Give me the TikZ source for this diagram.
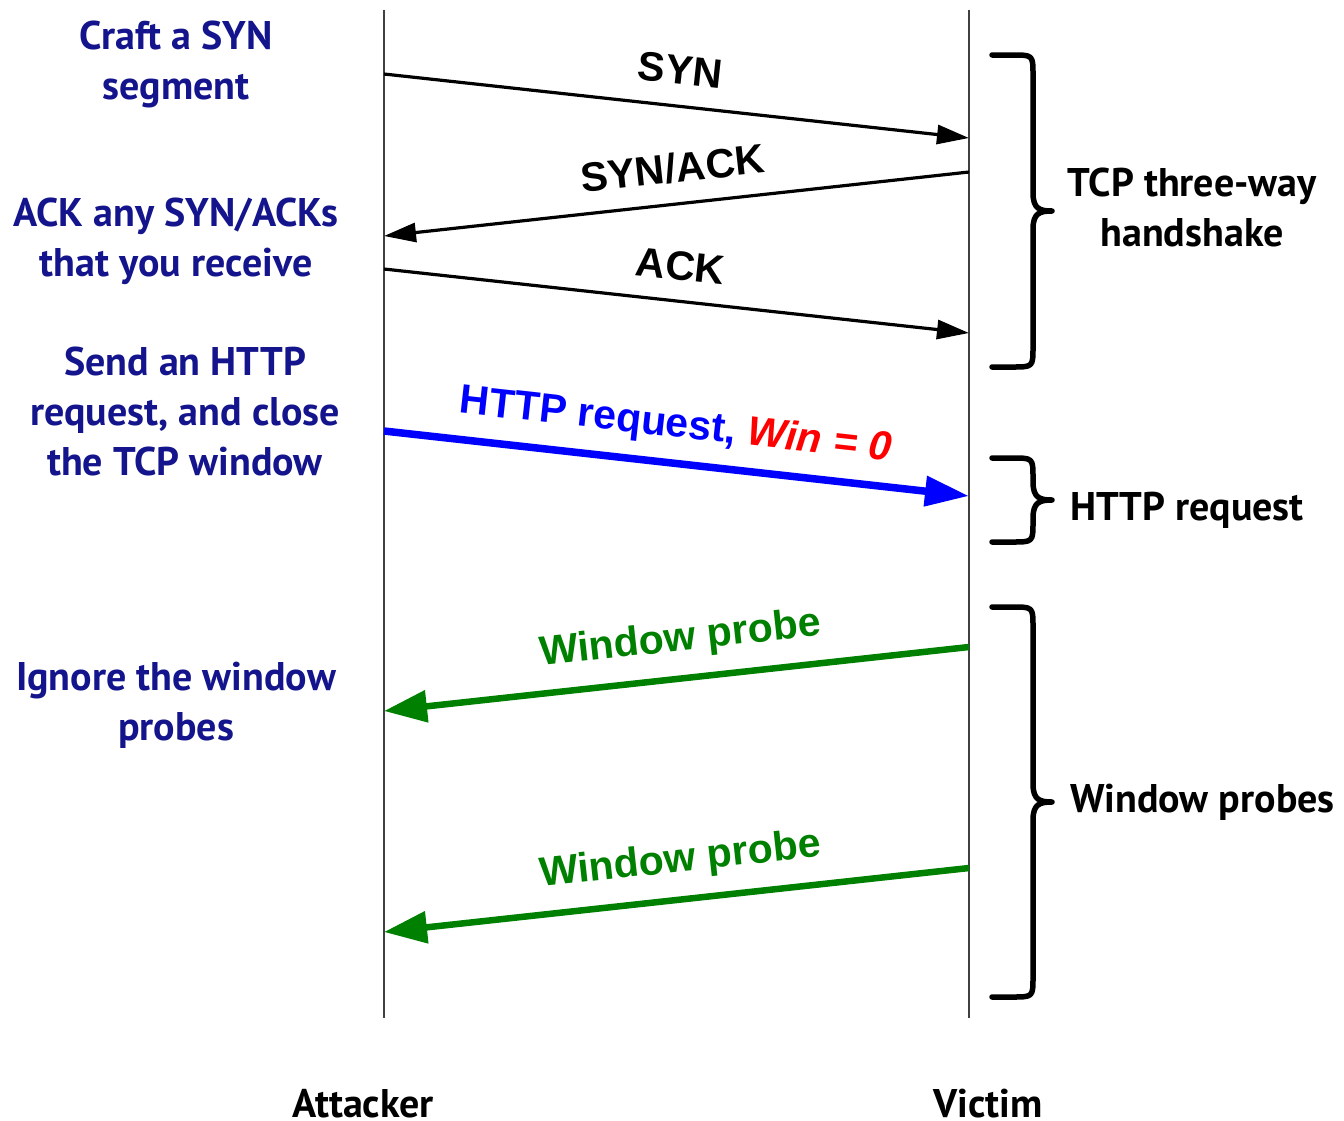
\documentclass[tikz,border=0pt]{standalone}
\usepackage{fontspec}
\setmainfont{Liberation Sans}
\newfontfamily\sidefont{PT Sans}
\usetikzlibrary{arrows.meta}

\definecolor{notenavy}{RGB}{20,20,140}
\definecolor{probegreen}{RGB}{0,128,0}

\tikzset{
  lifeline/.style={draw=black!75, line width=1.4pt},
  note/.style={font=\sidefont\bfseries\fontsize{40}{50}\selectfont, text=notenavy, align=center, inner sep=0pt},
  sidelabel/.style={font=\sidefont\bfseries\fontsize{40}{50}\selectfont, text=black, align=center, inner sep=0pt},
  msglabel/.style={font=\bfseries\fontsize{41}{44}\selectfont, inner sep=0pt, anchor=south},
  msg/.style={draw=black, line width=3.2pt, -{Triangle[length=32pt,width=19pt]}},
  msgback/.style={draw=black, line width=3.2pt, {Triangle[length=32pt,width=19pt]}-},
  httpmsg/.style={draw=blue, line width=7.5pt, -{Triangle[length=44pt,width=29pt]}},
  probemsg/.style={draw=probegreen, line width=6.5pt, {Triangle[length=43pt,width=31pt]}-},
  bracket/.style={draw=black, line width=5.5pt, line cap=round, line join=round},
}

% curly bracket on the right of the victim's line: top y, bottom y
\newcommand\phasebrace[2]{%
  \pgfmathsetmacro\bmid{(#1+#2)/2}%
  \draw[bracket] (992,#1) -- (1012,#1)
    .. controls (1033,#1) .. (1033,#1+20)
    -- (1033,\bmid-18)
    .. controls (1033,\bmid-2) and (1040,\bmid) .. (1052,\bmid)
    .. controls (1040,\bmid) and (1033,\bmid+2) .. (1033,\bmid+18)
    -- (1033,#2-20)
    .. controls (1033,#2) .. (1012,#2) -- (992,#2);}

\begin{document}
\begin{tikzpicture}[x=1pt,y=-1pt]
\useasboundingbox (0,0) rectangle (1344,1120);

% lifelines
\coordinate (atop) at (384,10);
\coordinate (abot) at (384,1018);
\coordinate (vtop) at (969,10);
\coordinate (vbot) at (969,1018);
\draw[lifeline] (atop) -- (abot);
\draw[lifeline] (vtop) -- (vbot);

% end points of the messages
\coordinate (synA) at (384,74);   \coordinate (synV) at (969,138);
\coordinate (saA)  at (384,236);  \coordinate (saV)  at (969,172);
\coordinate (ackA) at (384,269);  \coordinate (ackV) at (969,333);
\coordinate (htA)  at (384,431);  \coordinate (htV)  at (969,496);
\coordinate (wp1A) at (384,711);  \coordinate (wp1V) at (969,647);
\coordinate (wp2A) at (384,932);  \coordinate (wp2V) at (969,868);

% messages
\draw[msg] (synA) -- node[msglabel, sloped, above=20pt] (synlbl) {SYN} (synV);
\draw[msgback] (saA) -- node[msglabel, sloped, above=19pt] (salbl) {SYN/ACK} (saV);
\draw[msg] (ackA) -- node[msglabel, sloped, above=19pt] (acklbl) {ACK} (ackV);
\draw[httpmsg] (htA) -- node[msglabel, sloped, above=14pt, xshift=-5pt] (htlbl)
  {\textcolor{blue}{HTTP request,} \textcolor{red}{\itshape Win = 0}} (htV);
\draw[probemsg] (wp1A) -- node[msglabel, sloped, above=16pt, xshift=8pt, text=probegreen] (wp1lbl) {Window probe} (wp1V);
\draw[probemsg] (wp2A) -- node[msglabel, sloped, above=16pt, xshift=8pt, text=probegreen] (wp2lbl) {Window probe} (wp2V);

% attacker's notes
\node[note] (n1) at (176,64) {Craft a SYN\\segment};
\node[note] (n2) at (176,241) {ACK any SYN/ACKs\\that you receive};
\node[note] (n3) at (185,411) {Send an HTTP\\request, and close\\the TCP window};
\node[note] (n4) at (176,705) {Ignore the window\\probes};

% phase brackets
\phasebrace{55}{367}
\phasebrace{458}{542}
\phasebrace{607}{997}
\node[sidelabel] (p1) at (1192,207) {TCP three-way\\handshake};
\node[sidelabel, anchor=west] (p2) at (1070,510) {HTTP request};
\node[sidelabel, anchor=west] (p3) at (1070,802) {Window probes};

% participants
\node[sidelabel, anchor=base] (att) at (363,1117) {Attacker};
\node[sidelabel, anchor=base] (vic) at (988,1117) {Victim};
\end{tikzpicture}
\end{document}
